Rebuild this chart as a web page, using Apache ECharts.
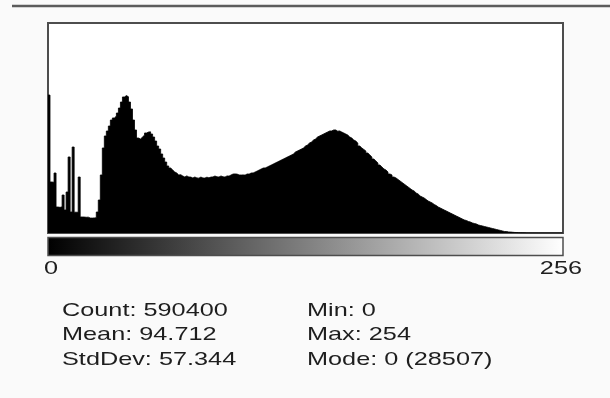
<!DOCTYPE html>
<html>
<head>
<meta charset="utf-8">
<script src="https://cdn.jsdelivr.net/npm/echarts@6/dist/echarts.min.js"></script>
<style>
html,body{margin:0;padding:0;background:#fafafa;}
#chart{width:610px;height:398px;}
</style>
</head>
<body>
<div id="chart"></div>
<script>
// Pixel-value bins 0..255
var binCount = 256;
var counts = [
  28507,10540,10480,12400,5370,5300,5400,7850,4750,8470,15710,4340,17770,4300,4280,11570,
  3310,3300,3250,3280,3100,3080,3120,3150,4340,6820,11990,17570,20050,21080,22110,23350,
  23770,24180,24800,25830,27070,28110,28400,28150,27070,25630,23350,21290,19630,19430,19840,20250,
  20670,20870,20900,20460,19840,19010,17980,17360,16330,15500,14670,13850,13430,13020,12610,12400,
  11990,12050,11780,11570,11800,11580,11560,11370,11570,11390,11340,11560,11380,11350,11540,11400,
  11560,11590,11780,11600,11570,11790,11610,11560,11800,11760,11990,12190,12210,12170,12000,11980,
  12010,11970,12200,12180,12400,12420,12610,12810,13020,13230,13430,13450,13640,13850,14050,14260,
  14470,14670,14880,15090,15290,15500,15710,15910,16120,16330,16740,16950,17150,17360,17570,17980,
  18190,18600,18810,19220,19430,19840,20050,20250,20460,20670,20870,21080,21100,21290,21300,21050,
  21090,20870,20670,20460,20250,19840,19630,19220,19010,18600,17980,17570,17260,16950,16530,16120,
  15710,15290,14880,14470,14050,13640,13230,13020,12610,12190,11990,11570,11370,11060,10750,10440,
  10130,9820,9510,9200,8890,8680,8270,8060,7650,7440,7230,6920,6610,6410,6200,5890,
  5680,5370,5170,4960,4750,4550,4340,4130,3930,3720,3510,3310,3100,2890,2690,2580,
  2380,2270,2070,1960,1860,1650,1550,1450,1340,1240,1140,1030,930,830,720,620,
  520,410,310,300,210,200,150,110,100,70,50,40,30,25,20,15,
  12,10,8,6,5,4,3,3,2,2,1,1,1,1,1,0
];
var xTickLabels = ['0', '256'];
var statLabelsLeft = ['Count: 590400', 'Mean: 94.712', 'StdDev: 57.344'];
var statLabelsRight = ['Min: 0', 'Max: 254', 'Mode: 0 (28507)'];
var yScaleMax = 43400;

var seriesData = counts.map(function (v, i) { return [i, v]; });
seriesData.push([binCount, counts[binCount - 1]]);

var FONT = '19px "Liberation Sans", Arial, sans-serif';
var TXT = '#1e1e1e';
var SX = 1.33;

function txt(x, y, s, align) {
  return {
    type: 'text', x: x, y: y, scaleX: SX, scaleY: 1, z: 10,
    style: { text: s, font: FONT, fill: TXT, textAlign: align || 'left', textVerticalAlign: 'middle' }
  };
}

var graphics = [
  { type: 'line', shape: { x1: 12, y1: 6, x2: 610, y2: 6 }, style: { stroke: '#5c5c5c', lineWidth: 2.5 }, z: 5 },
  {
    type: 'rect', shape: { x: 48, y: 237.5, width: 515, height: 18 }, z: 5,
    style: {
      fill: { type: 'linear', x: 0, y: 0, x2: 1, y2: 0, colorStops: [
        { offset: 0, color: '#000000' }, { offset: 1, color: '#ffffff' }] },
      stroke: '#4d4d4d', lineWidth: 1.5
    }
  },
  txt(44, 269, xTickLabels[0], 'left'),
  txt(582, 269, xTickLabels[1], 'right')
];
var rowsY = [310.5, 335, 359.5];
statLabelsLeft.forEach(function (s, i) { graphics.push(txt(62, rowsY[i], s, 'left')); });
statLabelsRight.forEach(function (s, i) { graphics.push(txt(307, rowsY[i], s, 'left')); });

var chart = echarts.init(document.getElementById('chart'), null, { renderer: 'canvas' });
chart.setOption({
  animation: false,
  backgroundColor: '#fafafa',
  grid: {
    left: 48, top: 23, width: 515, height: 210,
    show: true, backgroundColor: '#ffffff', borderColor: '#4d4d4d', borderWidth: 2
  },
  xAxis: { type: 'value', min: 0, max: binCount, show: false },
  yAxis: { type: 'value', min: 0, max: yScaleMax, show: false },
  series: [{
    type: 'line', step: 'end', symbol: 'none', data: seriesData,
    lineStyle: { color: '#000', width: 0.8 },
    areaStyle: { color: '#000', opacity: 1 }
  }],
  graphic: graphics
});
</script>
</body>
</html>
